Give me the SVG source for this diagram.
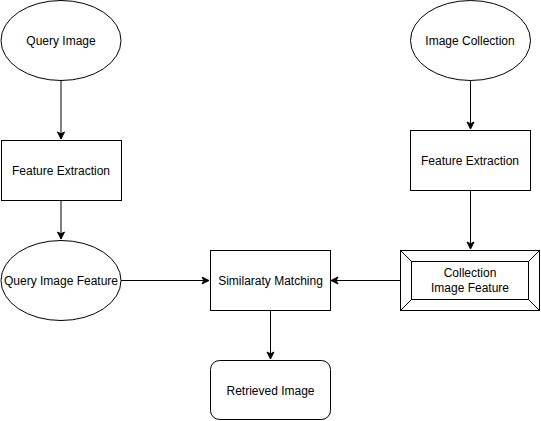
<svg xmlns="http://www.w3.org/2000/svg" width="541" height="421" viewBox="0 0 541 421">
<defs>
<marker id="arr" markerWidth="10" markerHeight="10" refX="8" refY="4" orient="auto" markerUnits="userSpaceOnUse">
<path d="M1,0.5 L8,4 L1,7.5 L2.8,4 Z" fill="#000" stroke="#000" stroke-width="1"/>
</marker>
</defs>
<style>
.s{fill:#fff;stroke:#000;stroke-width:1}
.t{font-family:"Liberation Sans",Arial,sans-serif;font-size:12px;fill:#000;text-anchor:middle}
.c{fill:none;stroke:#000;stroke-width:1;marker-end:url(#arr)}
</style>
<rect width="541" height="421" fill="#fff"/>
<g id="connectors">
<path class="c" d="M61,80.5 V139"/>
<path class="c" d="M61,200.5 V239"/>
<path class="c" d="M470.5,80.5 V129"/>
<path class="c" d="M470.5,190.5 V249"/>
<path class="c" d="M121,280.5 H209"/>
<path class="c" d="M400,280.5 H331"/>
<path class="c" d="M270.5,310.5 V359"/>
</g>
<g id="query-image">
<ellipse class="s" cx="61" cy="40.5" rx="60" ry="40"/>
<text class="t" x="61" y="45">Query Image</text>
</g>
<g id="feature-extraction-left">
<rect class="s" x="1.5" y="140.5" width="120" height="60"/>
<text class="t" x="61" y="175">Feature Extraction</text>
</g>
<g id="query-image-feature">
<ellipse class="s" cx="61" cy="280.5" rx="60" ry="40"/>
<text class="t" x="61" y="285">Query Image Feature</text>
</g>
<g id="image-collection">
<ellipse class="s" cx="470.5" cy="40.5" rx="60" ry="40"/>
<text class="t" x="470" y="45">Image Collection</text>
</g>
<g id="feature-extraction-right">
<rect class="s" x="410.5" y="130.5" width="120" height="60"/>
<text class="t" x="470" y="165">Feature Extraction</text>
</g>
<g id="collection-image-feature">
<rect class="s" x="400.5" y="250.5" width="139" height="60"/>
<rect class="s" x="411.5" y="261.5" width="117" height="38"/>
<path d="M400.5,250.5 L411.5,261.5 M539.5,250.5 L528.5,261.5 M400.5,310.5 L411.5,299.5 M539.5,310.5 L528.5,299.5" stroke="#000" fill="none"/>
<text class="t" x="470" y="277">Collection</text>
<text class="t" x="470" y="292">Image Feature</text>
</g>
<g id="similarity-matching">
<rect class="s" x="210.5" y="250.5" width="120" height="60"/>
<text class="t" x="270.5" y="285">Similaraty Matching</text>
</g>
<g id="retrieved-image">
<rect class="s" x="210.5" y="360.5" width="120" height="59" rx="9" ry="9"/>
<text class="t" x="270.5" y="395">Retrieved Image</text>
</g>
</svg>
